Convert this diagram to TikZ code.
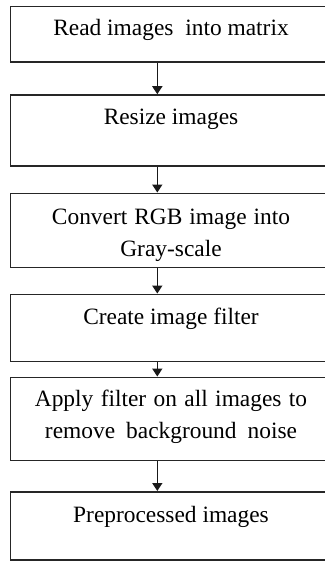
\documentclass[tikz,border=0pt]{standalone}
\usepackage{fontspec}
\setmainfont{Liberation Serif}
\usetikzlibrary{arrows.meta}
\begin{document}
\begin{tikzpicture}[x=1pt,y=-1pt,
  box/.style={draw=black!85, line width=1.5pt, rectangle, inner sep=0pt, minimum width=324pt},
  txt/.style={font=\fontsize{23.4}{32}\selectfont, inner sep=0pt, align=center, anchor=base},
  arr/.style={draw=black!90, line width=1.5pt, -{Triangle[width=10pt,length=8pt]}}]
\useasboundingbox (0,0) rectangle (324,561);
\node[box, minimum height=55.5pt] (b1) at (172.5,34.25) {};
\node[box, minimum height=71pt] (b2) at (172.5,130.5) {};
\node[box, minimum height=74pt] (b3) at (172.5,230.3) {};
\node[box, minimum height=67.4pt] (b4) at (172.5,328) {};
\node[box, minimum height=83.4pt] (b5) at (172.5,419) {};
\node[box, minimum height=68.3pt] (b6) at (172.5,525.9) {};
\node[txt] (t1) at (171,36) {Read images\hspace{6pt} into matrix};
\node[txt] (t2) at (171,125) {Resize images};
\node[txt] (t3) at (171,256) {{\spaceskip=7pt\relax Convert RGB image into}\\Gray-scale};
\node[txt] (t4) at (171,324) {Create image filter};
\node[txt] (t5) at (171,438) {{\spaceskip=7.4pt\relax Apply filter on all images to}\\{\spaceskip=11pt\relax remove background noise}};
\node[txt] (t6) at (171,522.7) {Preprocessed images};
\coordinate (ax) at (157.3,0);
\draw[arr] (ax |- b1.south) -- (ax |- b2.north);
\draw[arr] (ax |- b2.south) -- (ax |- b3.north);
\draw[arr] (ax |- b3.south) -- (ax |- b4.north);
\draw[arr] (ax |- b4.south) -- (ax |- b5.north);
\draw[arr] (ax |- b5.south) -- (ax |- b6.north);
\end{tikzpicture}
\end{document}
